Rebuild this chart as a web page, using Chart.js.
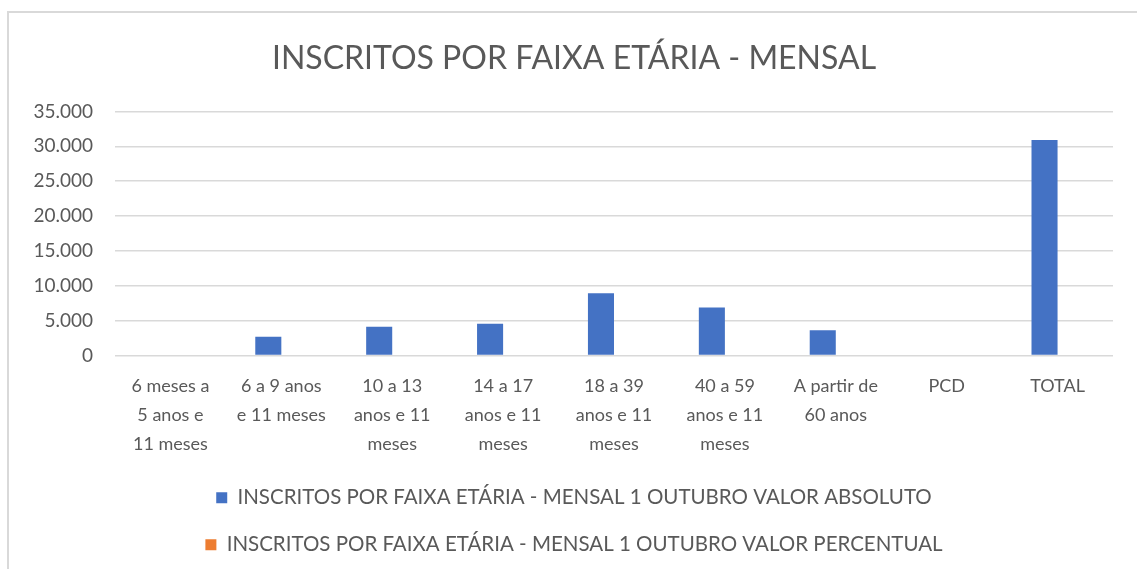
<!DOCTYPE html>
<html>
<head>
<meta charset="utf-8">
<script src="https://cdn.jsdelivr.net/npm/chart.js@4/dist/chart.umd.min.js"></script>
<style>
  html, body { margin: 0; padding: 0; background: #fff; }
  #box {
    position: absolute; left: 7px; top: 11px;
    width: 1130px; height: 558px;
    border-left: 2px solid #d9d9d9; border-top: 2px solid #d9d9d9;
  }
  #grafico { display: block; }
</style>
</head>
<body>
<div id="box"><canvas id="grafico" width="1130" height="558"></canvas></div>
<script>
const categorias = [
    ["6 meses a", "5 anos e", "11 meses"],
    ["6 a 9 anos", "e 11 meses"],
    ["10 a 13", "anos e 11", "meses"],
    ["14 a 17", "anos e 11", "meses"],
    ["18 a 39", "anos e 11", "meses"],
    ["40 a 59", "anos e 11", "meses"],
    ["A partir de", "60 anos"],
    "PCD",
    "TOTAL"
];
const valorAbsoluto = [0, 2700, 4150, 4550, 8950, 6900, 3650, 0, 30900];
const valorPercentual = [0, 0.087, 0.134, 0.147, 0.29, 0.223, 0.118, 0, 1];
const ticksY = [0, 5000, 10000, 15000, 20000, 25000, 30000, 35000];

const cinza = "#595959";
const fonte = "Lato, 'Open Sans', sans-serif";

function formatar(v) {
    return String(v).replace(/\B(?=(\d{3})+(?!\d))/g, ".");
}

const ctx = document.getElementById("grafico");
new Chart(ctx, {
    type: "bar",
    data: {
        labels: categorias,
        datasets: [{
            label: "INSCRITOS POR FAIXA ETÁRIA - MENSAL 1 OUTUBRO VALOR ABSOLUTO",
            data: valorAbsoluto,
            backgroundColor: "#4472C4"
        }, {
            label: "INSCRITOS POR FAIXA ETÁRIA - MENSAL 1 OUTUBRO VALOR PERCENTUAL",
            data: valorPercentual,
            backgroundColor: "#ED7D31",
            inflateAmount: 0,
            // barras menores que 1px nao aparecem no original
            clip: { left: 0, top: 0, right: 0, bottom: -2 }
        }]
    },
    options: {
        responsive: false,
        animation: false,
        layout: { padding: { left: 0, right: 0, top: 8, bottom: 6 } },
        datasets: { bar: { categoryPercentage: 0.47, barPercentage: 1.0 } },
        plugins: {
            title: {
                display: true,
                text: "INSCRITOS POR FAIXA ETÁRIA - MENSAL",
                color: cinza,
                font: { family: fonte, size: 32, weight: "normal" },
                padding: { top: 18, bottom: 34 }
            },
            legend: {
                position: "bottom",
                labels: {
                    color: cinza,
                    font: { family: fonte, size: 20.5 },
                    boxWidth: 11,
                    boxHeight: 11,
                    padding: 26.5
                }
            },
            tooltip: { enabled: false }
        },
        scales: {
            x: {
                grid: { display: false },
                border: { display: false },
                ticks: {
                    color: cinza,
                    font: { family: fonte, size: 18, lineHeight: 1.6 },
                    maxRotation: 0,
                    autoSkip: false,
                    padding: 8.5
                },
                afterFit: axis => { axis.height -= 6; }
            },
            y: {
                min: 0,
                max: 35000,
                afterBuildTicks: axis => { axis.ticks = ticksY.map(v => ({ value: v })); },
                afterFit: axis => { axis.width = 106; },
                grid: { color: "#d9d9d9", lineWidth: 1.5, drawTicks: false },
                border: { display: false },
                ticks: {
                    color: cinza,
                    font: { family: fonte, size: 19 },
                    padding: 22,
                    callback: v => formatar(v)
                }
            },
            // eixo vazio so para deixar a margem da direita
            margemDireita: {
                position: "right",
                grid: { display: false },
                border: { display: false },
                ticks: { display: false },
                afterFit: axis => { axis.width = 26; }
            }
        }
    }
});
</script>
</body>
</html>
